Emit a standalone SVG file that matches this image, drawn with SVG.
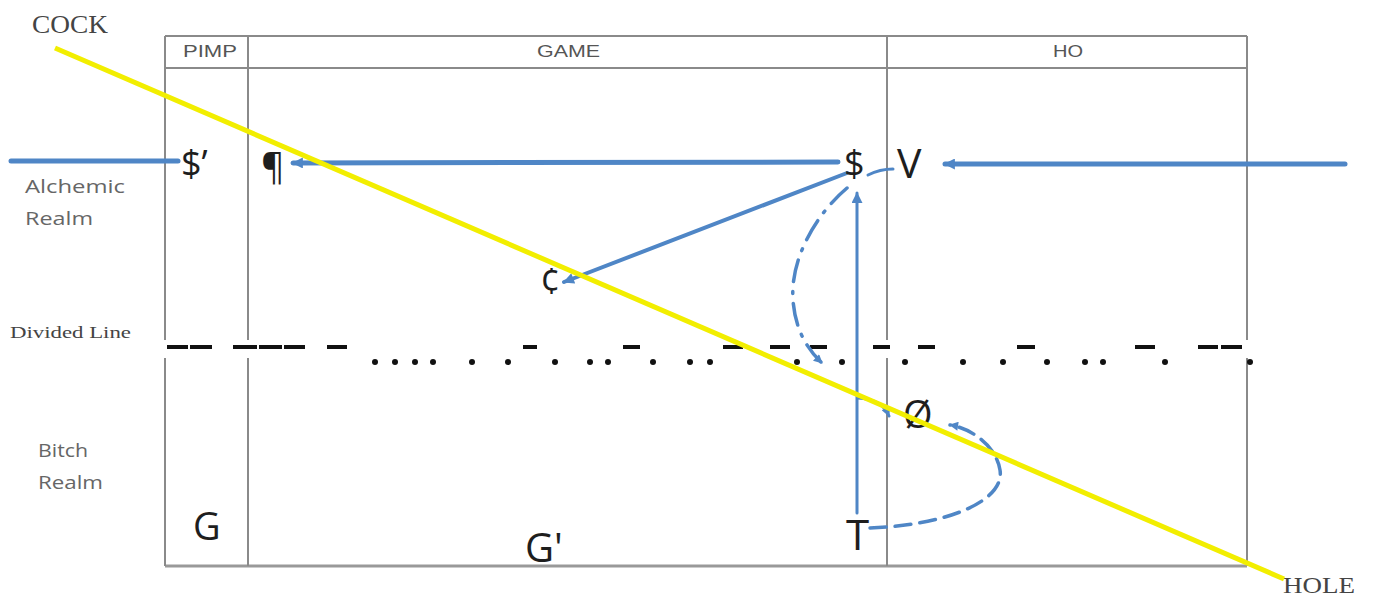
<svg xmlns="http://www.w3.org/2000/svg" width="1373" height="598" viewBox="0 0 1373 598">
<style>
.frame{stroke:#8a8a8a;stroke-width:2;fill:none}
.hdr{font-family:"Liberation Sans",Arial,sans-serif;font-size:16px;fill:#555}
.side{font-family:"Open Sans","Liberation Sans",sans-serif;font-size:18px;fill:#666}
.serif{font-family:"Liberation Serif","Times New Roman",serif;fill:#444}
.sym{font-family:"Open Sans","Liberation Sans",sans-serif;fill:#1e1e1e}
.blue{stroke:#4f86c6;fill:none;stroke-linecap:round}
.dot{fill:#111}
</style>
<defs>
<marker id="ah" viewBox="0 0 10 10" refX="9" refY="5" markerWidth="12" markerHeight="11" markerUnits="userSpaceOnUse" orient="auto">
<path d="M0,0 L10,5 L0,10 Z" fill="#4f86c6"/>
</marker>
<marker id="ahs" viewBox="0 0 10 10" refX="9" refY="5" markerWidth="10" markerHeight="9" markerUnits="userSpaceOnUse" orient="auto">
<path d="M0,0 L10,5 L0,10 Z" fill="#4f86c6"/>
</marker>
</defs>
<rect width="1373" height="598" fill="#fff"/>
<g id="table">
<line class="frame" x1="165" y1="36" x2="1247" y2="36"/>
<line class="frame" x1="165" y1="68" x2="1247" y2="68"/>
<line class="frame" x1="165" y1="566" x2="1247" y2="566" style="stroke-width:3;stroke:#999"/>
<path class="frame" d="M165,36 V340 M165,358 V566 M248,36 V340 M248,358 V566 M887,36 V340 M887,358 V566 M1247,36 V340 M1247,358 V566"/>
<text class="hdr" x="183" y="57" textLength="54" lengthAdjust="spacingAndGlyphs">PIMP</text>
<text class="hdr" x="537" y="57" textLength="63" lengthAdjust="spacingAndGlyphs">GAME</text>
<text class="hdr" x="1053" y="57" textLength="30" lengthAdjust="spacingAndGlyphs">HO</text>
</g>
<g id="labels">
<text class="serif" x="32" y="33" font-size="26" textLength="76" lengthAdjust="spacingAndGlyphs">COCK</text>
<text class="serif" x="1283" y="593" font-size="24" textLength="72" lengthAdjust="spacingAndGlyphs">HOLE</text>
<text class="side" x="25" y="193" textLength="100" lengthAdjust="spacingAndGlyphs">Alchemic</text>
<text class="side" x="25" y="225" textLength="68" lengthAdjust="spacingAndGlyphs">Realm</text>
<text class="serif" x="10" y="338" font-size="16" textLength="121" lengthAdjust="spacingAndGlyphs">Divided Line</text>
<text class="side" x="38" y="457" textLength="50" lengthAdjust="spacingAndGlyphs">Bitch</text>
<text class="side" x="38" y="489" textLength="65" lengthAdjust="spacingAndGlyphs">Realm</text>
</g>
<g id="divided-line">
<rect class="dot" x="167" y="345" width="21" height="4"/>
<rect class="dot" x="190" y="345" width="22" height="4"/>
<rect class="dot" x="233" y="345" width="24" height="4"/>
<rect class="dot" x="259" y="345" width="23" height="4"/>
<rect class="dot" x="284" y="345" width="21" height="4"/>
<rect class="dot" x="327" y="345" width="20" height="4"/>
<rect class="dot" x="523" y="345" width="14" height="4"/>
<rect class="dot" x="623" y="345" width="17" height="4"/>
<rect class="dot" x="723" y="345" width="20" height="4"/>
<rect class="dot" x="770" y="345" width="20" height="4"/>
<rect class="dot" x="810" y="345" width="17" height="4"/>
<rect class="dot" x="873" y="345" width="17" height="4"/>
<rect class="dot" x="918" y="345" width="17" height="4"/>
<rect class="dot" x="1017" y="345" width="18" height="4"/>
<rect class="dot" x="1135" y="345" width="20" height="4"/>
<rect class="dot" x="1198" y="345" width="20" height="4"/>
<rect class="dot" x="1221" y="345" width="21" height="4"/>
<g class="dot">
<circle cx="375" cy="362" r="3"/><circle cx="395" cy="362" r="3"/><circle cx="415" cy="362" r="3"/><circle cx="433" cy="362" r="3"/>
<circle cx="472" cy="362" r="3"/><circle cx="508" cy="362" r="3"/><circle cx="555" cy="362" r="3"/><circle cx="590" cy="362" r="3"/>
<circle cx="608" cy="362" r="3"/><circle cx="653" cy="362" r="3"/><circle cx="690" cy="362" r="3"/><circle cx="710" cy="362" r="3"/>
<circle cx="797" cy="362" r="3"/><circle cx="842" cy="362" r="3"/><circle cx="905" cy="362" r="3"/><circle cx="963" cy="362" r="3"/>
<circle cx="1003" cy="362" r="3"/><circle cx="1047" cy="362" r="3"/><circle cx="1085" cy="362" r="3"/><circle cx="1103" cy="362" r="3"/>
<circle cx="1165" cy="362" r="3"/><circle cx="1250" cy="362" r="3"/>
</g>
</g>
<g id="connectors">
<line class="blue" x1="11" y1="161" x2="178" y2="161" stroke-width="5"/>
<line class="blue" x1="838" y1="162" x2="293" y2="163" stroke-width="5" marker-end="url(#ah)"/>
<line class="blue" x1="1345" y1="164" x2="945" y2="164" stroke-width="5" marker-end="url(#ah)"/>
<path class="blue" d="M868,175 Q880,169 893,169" stroke-width="3"/>
<line class="blue" x1="847" y1="173" x2="564" y2="282" stroke-width="4" marker-end="url(#ah)"/>
<path class="blue" d="M847,188 C815,215 790,260 793,300 C795,330 808,350 822,363" stroke-width="3.5" stroke-dasharray="22 10 2 10" marker-end="url(#ahs)"/>
<line class="blue" x1="857" y1="513" x2="857" y2="193" stroke-width="3" marker-end="url(#ah)"/>
<path class="blue" d="M858,398 Q882,399 889,416" stroke-width="3" marker-end="url(#ahs)"/>
<path class="blue" d="M870,528 C950,525 1005,500 1000,470 C996,445 970,428 950,425" stroke-width="3.5" stroke-dasharray="16 9" marker-end="url(#ahs)"/>
</g>
<g id="node-s-prime"><text class="sym" x="181" y="176" font-size="36">$’</text></g>
<g id="node-pilcrow"><text class="sym" x="261" y="179" font-size="36">¶</text></g>
<g id="node-s"><text class="sym" x="844" y="176" font-size="36">$</text></g>
<g id="node-v"><text class="sym" x="897" y="178" font-size="41">V</text></g>
<g id="node-cent"><text class="sym" x="540" y="294" font-size="36">¢</text></g>
<g id="node-o-slash"><text class="sym" x="903" y="428" font-size="38">Ø</text></g>
<g id="node-t"><text class="sym" x="846" y="550" font-size="42">T</text></g>
<g id="node-g"><text class="sym" x="193" y="540" font-size="38">G</text></g>
<g id="node-g-prime"><text class="sym" x="525" y="562" font-size="40">G'</text></g>
<g id="cock-hole-line">
<line x1="55" y1="48" x2="1284" y2="579" stroke="#f2ee00" stroke-width="5"/>
</g>
</svg>
